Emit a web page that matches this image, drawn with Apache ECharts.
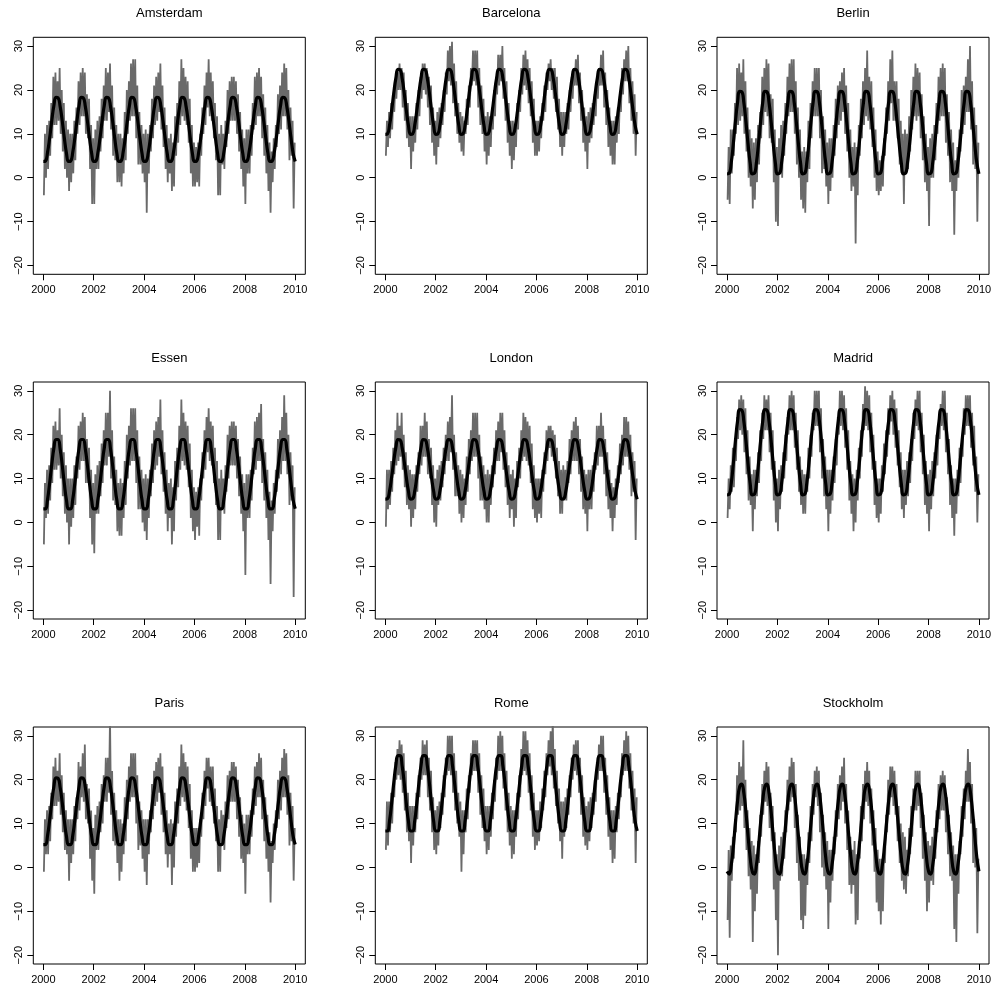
<!DOCTYPE html>
<html>
<head>
<meta charset="utf-8">
<script src="https://cdn.jsdelivr.net/npm/echarts@6.0.0/dist/echarts.min.js"></script>
<style>
html, body { margin: 0; padding: 0; background: #fff; }
#chart { width: 995px; height: 990px; }
</style>
</head>
<body>
<div id="chart"></div>
<script>
var cities = ['Amsterdam', 'Barcelona', 'Berlin', 'Essen', 'London', 'Madrid', 'Paris', 'Rome', 'Stockholm'];
var xTicks = [2000, 2002, 2004, 2006, 2008, 2010];
var yTicks = [-20, -10, 0, 10, 20, 30];

// fitted seasonal curve, value at the start of each month (Jan..Dec)
var fitAmsterdam = [3.7, 3.8, 5.8, 9.1, 13.0, 16.4, 18.3, 18.2, 16.2, 12.9, 9.0, 5.6];
var fitBarcelona = [9.9, 10.0, 12.0, 15.4, 19.3, 22.7, 24.7, 24.6, 22.6, 19.2, 15.3, 11.9];
var fitBerlin = [0.9, 1.0, 3.5, 7.9, 12.9, 17.2, 19.7, 19.6, 17.1, 12.7, 7.7, 3.4];
var fitEssen = [3.1, 3.1, 5.3, 9.0, 13.2, 16.9, 18.9, 18.9, 16.7, 13.0, 8.8, 5.1];
var fitLondon = [5.3, 5.4, 7.2, 10.4, 14.0, 17.1, 18.9, 18.8, 17.0, 13.8, 10.2, 7.1];
var fitMadrid = [6.3, 6.4, 9.0, 13.5, 18.7, 23.1, 25.7, 25.6, 23.0, 18.5, 13.3, 8.9];
var fitParis = [5.2, 5.2, 7.3, 10.8, 14.9, 18.4, 20.4, 20.3, 18.2, 14.7, 10.6, 7.1];
var fitRome = [8.3, 8.3, 10.7, 14.7, 19.3, 23.3, 25.5, 25.5, 23.1, 19.1, 14.5, 10.5];
var fitStockholm = [-0.9, -1.5, 0.6, 4.9, 10.3, 15.2, 18.4, 19.0, 16.9, 12.6, 7.2, 2.3];

// monthly high / low of the daily temperatures, Jan 2000 .. Dec 2009 (one row per year)
var hiAmsterdam = [
  10,12,13,17,23,24,22,25,20,17,13,11,
  10,10,13,16,22,24,25,24,19,18,12,9,
  11,13,14,18,21,25,24,26,21,16,12,10,
  10,9,15,20,22,26,27,27,21,15,12,10,
  11,10,12,18,21,23,24,26,21,16,12,9,
  10,8,14,17,22,27,25,23,22,18,12,8,
  7,8,10,16,21,24,27,24,22,17,14,10,
  12,10,13,20,22,23,23,22,19,15,11,9,
  11,11,12,17,23,24,25,23,19,16,12,8,
  6,9,12,19,21,24,26,25,20,16,13,8];
var loAmsterdam = [
  -4,0,2,5,9,12,12,13,10,6,2,0,
  -3,-1,1,4,10,12,14,14,10,9,2,-6,
  -6,2,2,6,9,13,13,15,11,5,4,-1,
  -1,-2,1,4,10,13,14,14,9,3,3,1,
  -1,-8,1,6,9,12,13,15,11,7,2,-1,
  1,-3,-2,5,8,12,14,13,12,8,1,-2,
  -2,-1,-2,5,10,12,16,14,13,9,4,-4,
  -4,3,2,7,10,13,13,13,10,6,2,-2,
  -6,1,1,5,11,12,14,14,9,5,1,-3,
  -8,-1,2,7,10,11,14,14,11,4,5,-7];

var hiBarcelona = [
  13,15,17,19,22,24,26,25,24,20,17,14,
  14,14,17,20,23,26,26,25,23,21,16,13,
  15,16,17,20,24,29,30,31,26,22,17,15,
  14,13,18,21,25,29,29,29,25,21,18,14,
  15,14,16,20,23,28,28,30,25,22,17,13,
  13,12,17,20,25,28,29,27,25,22,18,13,
  13,14,17,21,24,26,27,25,25,23,18,15,
  15,15,17,20,23,25,27,28,24,20,16,14,
  15,16,17,19,22,25,28,29,24,20,16,13,
  13,14,16,19,25,27,29,30,25,22,19,15];
var loBarcelona = [
  5,7,9,11,15,18,20,20,16,13,9,7,
  2,6,8,11,14,18,20,19,16,12,8,5,
  3,7,9,12,15,19,22,21,17,14,10,8,
  6,5,10,12,16,21,22,21,16,12,10,6,
  3,5,7,11,14,19,21,22,18,13,8,5,
  2,4,7,11,15,19,21,20,17,14,8,5,
  5,6,9,13,15,20,22,20,18,15,11,7,
  5,7,10,11,15,18,21,21,17,13,8,6,
  2,8,9,12,14,18,21,21,16,12,7,5,
  3,3,8,10,15,19,22,22,17,13,10,5];

var hiBerlin = [
  7,11,11,17,25,26,24,27,22,16,11,9,
  8,9,12,15,23,25,27,26,19,18,11,7,
  9,12,13,17,23,26,27,27,22,16,11,6,
  7,6,13,17,22,25,25,25,20,14,11,8,
  9,9,12,18,21,22,24,25,21,17,11,7,
  8,7,12,18,22,25,29,23,22,16,11,6,
  4,5,9,16,22,27,29,22,22,18,13,10,
  11,10,14,20,23,26,25,24,19,14,10,7,
  9,10,12,17,23,25,26,25,19,15,11,8,
  4,7,11,20,21,23,27,30,22,16,12,8];
var loBerlin = [
  -5,-6,1,5,10,12,13,14,10,6,0,-2,
  -7,-5,-1,3,9,12,15,14,9,8,-1,-10,
  -11,1,0,5,10,14,15,15,10,3,0,-5,
  -7,-8,-1,2,9,14,14,14,9,1,2,-2,
  -6,-3,0,5,9,12,13,15,10,6,0,-3,
  -2,-15,-4,5,9,12,14,13,11,7,0,-3,
  -4,-3,-2,5,10,13,17,13,13,9,3,1,
  -6,1,2,6,11,14,13,14,9,4,-1,-3,
  -11,0,0,4,10,13,14,14,8,5,-1,-3,
  -13,-3,0,6,10,12,15,15,11,3,2,-10];

var hiEssen = [
  9,12,13,17,22,23,21,26,20,16,13,10,
  10,10,13,15,22,23,25,24,19,17,12,9,
  11,13,14,18,21,25,25,30,21,15,12,9,
  10,9,14,20,22,26,26,26,21,15,12,10,
  11,10,12,18,21,23,24,28,21,16,12,9,
  10,8,14,17,22,28,25,23,22,18,12,8,
  7,8,10,16,21,24,26,23,22,17,14,10,
  12,10,13,20,22,23,23,22,19,15,11,9,
  11,11,12,17,23,24,25,27,19,16,12,7,
  5,9,12,19,21,24,29,25,20,16,13,8];
var loEssen = [
  -5,1,2,5,9,12,12,13,10,6,2,0,
  -5,-1,1,4,10,12,14,14,9,9,1,-5,
  -7,2,2,6,9,13,13,15,10,5,4,-2,
  -3,-3,1,4,10,13,14,14,9,3,3,0,
  -2,-4,1,6,9,12,13,15,11,7,2,-2,
  1,-5,-2,5,8,12,14,13,12,8,1,-2,
  -4,-1,-3,5,10,12,16,14,13,9,4,-4,
  -4,3,2,7,10,13,13,13,10,6,2,-2,
  -12,1,1,5,11,12,14,14,9,5,1,-4,
  -14,-2,2,7,10,11,14,14,11,4,5,-17];

var hiLondon = [
  12,12,14,17,21,25,22,25,20,16,13,12,
  11,11,13,16,22,22,25,23,19,17,13,10,
  12,13,14,17,20,23,24,29,20,16,13,12,
  11,10,15,19,21,25,25,25,20,15,13,11,
  12,11,13,17,21,23,25,25,21,16,13,11,
  12,10,14,17,21,25,24,23,22,18,13,10,
  10,10,12,16,21,22,22,21,20,17,14,12,
  13,12,14,19,21,23,24,22,19,15,12,11,
  12,12,13,16,22,22,25,22,19,16,12,9,
  8,10,13,18,20,24,24,23,20,16,14,10];
var loLondon = [
  -1,3,4,7,11,13,14,15,12,8,4,3,
  -1,1,3,7,11,13,15,15,11,10,4,0,
  -1,4,5,8,11,14,14,16,12,6,6,2,
  0,1,4,7,11,14,15,15,10,5,5,3,
  0,0,4,8,11,14,14,16,12,8,4,1,
  3,-1,1,8,10,14,15,14,13,9,3,1,
  0,2,1,7,11,14,17,15,14,10,6,2,
  2,5,5,9,11,14,14,14,11,7,3,2,
  -2,3,3,7,12,13,15,15,11,6,3,1,
  -2,1,4,9,11,13,15,15,12,6,7,-4];

var hiMadrid = [
  10,13,17,16,24,28,29,28,26,21,15,11,
  12,12,16,21,25,29,28,29,25,21,14,10,
  12,13,16,20,24,29,30,29,25,21,15,12,
  11,11,17,20,25,30,30,30,26,19,15,12,
  12,12,15,19,24,30,30,29,26,21,14,11,
  10,12,17,21,27,31,30,29,25,20,14,10,
  10,13,18,21,26,29,30,28,26,21,16,12,
  12,14,16,19,25,28,30,30,25,20,14,11,
  12,14,16,20,22,27,30,30,25,19,13,10,
  10,12,17,18,26,29,29,29,25,22,15,11];
var loMadrid = [
  1,3,7,8,14,19,21,20,16,11,5,4,
  -2,3,6,9,14,19,21,21,16,12,5,0,
  -2,3,7,10,14,20,21,21,17,12,7,4,
  2,2,7,10,15,21,22,22,16,10,6,3,
  -2,2,5,9,13,20,22,21,17,12,5,2,
  -2,0,5,10,15,21,22,21,16,12,4,1,
  0,2,7,11,15,20,23,20,17,13,8,3,
  1,4,6,9,14,19,22,21,16,11,4,2,
  -2,3,6,10,13,19,22,21,16,11,4,1,
  -3,2,6,9,15,20,22,22,17,13,7,0];

var hiParis = [
  11,13,14,17,23,25,22,26,21,17,13,11,
  11,11,14,16,24,23,26,28,19,18,13,9,
  12,14,15,19,21,25,25,34,22,17,13,11,
  11,10,16,20,23,26,26,26,21,15,13,11,
  11,11,13,19,22,24,25,26,23,17,13,10,
  11,10,15,18,23,28,26,24,23,19,13,9,
  9,9,11,17,22,25,25,23,23,18,14,11,
  13,12,15,21,22,24,24,23,20,16,12,10,
  12,12,13,18,23,24,26,25,20,16,12,8,
  6,10,13,20,22,25,27,26,21,17,14,9];
var loParis = [
  -1,3,3,6,11,14,14,15,12,8,4,3,
  -3,1,3,6,11,13,16,15,11,10,2,-3,
  -6,4,4,8,10,15,15,17,12,6,5,1,
  -3,-1,3,6,11,15,16,16,10,4,5,2,
  -1,-4,3,8,11,14,15,17,12,8,3,0,
  3,-4,0,7,10,14,16,15,13,9,2,-1,
  -1,0,1,7,11,14,18,15,14,10,6,-1,
  -1,5,4,9,11,15,15,15,11,7,2,1,
  -6,3,3,7,12,14,16,16,11,6,2,-1,
  -8,1,4,9,11,13,16,16,12,5,6,-3];

var hiRome = [
  15,15,17,18,24,27,29,28,26,22,17,14,
  14,14,17,21,25,29,28,29,25,22,16,13,
  14,15,17,21,25,30,30,30,26,22,17,15,
  13,13,18,21,26,29,29,29,26,21,18,14,
  14,14,17,20,25,30,31,30,26,22,17,14,
  13,13,17,21,27,31,31,29,26,21,17,13,
  13,15,18,22,26,29,31,34,27,22,18,15,
  15,16,18,21,25,28,29,29,25,21,16,14,
  15,16,17,20,24,28,30,30,25,21,16,13,
  13,14,17,20,26,29,31,30,26,22,18,16];
var loRome = [
  4,5,8,10,16,20,21,20,17,13,8,6,
  1,5,8,11,16,20,21,21,16,13,8,4,
  3,5,9,12,16,21,22,21,17,13,10,7,
  -1,3,8,11,17,21,22,22,17,12,9,6,
  3,4,7,11,15,20,22,22,18,13,8,5,
  2,3,7,11,16,21,22,21,17,13,7,4,
  5,6,9,13,16,21,23,21,18,14,10,6,
  2,7,9,12,16,20,22,21,17,12,7,5,
  4,6,9,12,15,20,22,22,17,12,7,4,
  1,2,8,11,16,21,22,22,18,13,10,1];

var hiStockholm = [
  4,5,7,11,21,24,23,29,20,13,9,6,
  5,3,6,12,19,22,24,23,17,14,8,3,
  5,7,8,13,20,23,25,24,19,12,7,3,
  3,2,8,14,19,22,23,22,17,12,8,6,
  4,4,7,13,19,21,23,25,19,13,7,4,
  6,3,6,14,19,22,24,22,18,13,9,4,
  2,2,3,12,20,23,23,22,19,14,10,8,
  7,4,9,14,18,22,22,22,17,12,8,6,
  5,7,9,13,19,21,22,21,16,12,8,5,
  3,3,6,14,18,22,27,24,19,11,9,2];
var loStockholm = [
  -12,-16,-3,2,8,12,13,14,9,4,-2,-5,
  -17,-10,-6,1,7,12,15,14,9,6,-5,-12,
  -20,-3,-2,2,8,13,15,16,9,1,-3,-12,
  -14,-11,-4,1,6,12,16,14,8,0,-2,-5,
  -14,-8,-3,3,7,11,13,15,10,4,-4,-6,
  -4,-13,-12,2,6,11,15,14,10,5,-1,-8,
  -10,-13,-10,1,8,12,16,14,12,6,1,-3,
  -5,-6,-2,3,7,13,13,14,9,2,-3,-10,
  -8,-3,-4,2,8,11,13,13,8,3,-2,-3,
  -14,-17,-6,3,7,11,15,15,10,1,0,-15];

var fits = [fitAmsterdam, fitBarcelona, fitBerlin, fitEssen, fitLondon, fitMadrid, fitParis, fitRome, fitStockholm];
var highs = [hiAmsterdam, hiBarcelona, hiBerlin, hiEssen, hiLondon, hiMadrid, hiParis, hiRome, hiStockholm];
var lows = [loAmsterdam, loBarcelona, loBerlin, loEssen, loLondon, loMadrid, loParis, loRome, loStockholm];

var colLeft = [33.3, 375.3, 717];
var rowTop = [37.3, 382, 727];
var boxW = 272, boxH = 237;
var font = 'Liberation Sans, Arial, Helvetica, sans-serif';

var chart = echarts.init(document.getElementById('chart'));

var grid = [], xAxis = [], yAxis = [], series = [], title = [];

for (var c = 0; c < cities.length; c++) {
    var col = c % 3;
    var row = Math.floor(c / 3);

    grid.push({
        left: colLeft[col], top: rowTop[row], width: boxW, height: boxH,
        show: true, borderColor: '#000', borderWidth: 1, backgroundColor: 'transparent'
    });

    title.push({
        text: cities[c],
        left: colLeft[col] + boxW / 2,
        top: rowTop[row] - 30,
        textAlign: 'center',
        padding: 0,
        textStyle: { fontSize: 13, fontWeight: 'normal', fontFamily: font, color: '#000' }
    });

    xAxis.push({
        type: 'value', gridIndex: c, min: 1999.6, max: 2010.4,
        splitLine: { show: false },
        axisLine: { show: false, onZero: false },
        axisTick: { length: 6, customValues: xTicks, lineStyle: { color: '#000' } },
        axisLabel: {
            customValues: xTicks, margin: 10, fontSize: 11, fontFamily: font, color: '#000',
            formatter: function (v) { return String(v); }
        }
    });

    yAxis.push({
        type: 'value', gridIndex: c, min: -22, max: 32,
        splitLine: { show: false },
        axisLine: { show: false, onZero: false },
        axisTick: { length: 6, customValues: yTicks, lineStyle: { color: '#000' } },
        axisLabel: {
            customValues: yTicks, rotate: 90, margin: 9, fontSize: 11, fontFamily: font, color: '#000',
            formatter: function (v) { return String(v).replace('-', '\u2212'); }
        }
    });

    // daily series drawn as a low/high stroke for every month
    var daily = [];
    for (var i = 0; i < highs[c].length; i++) {
        var t = 2000 + i / 12;
        daily.push([t + 1 / 48, lows[c][i]]);
        daily.push([t + 3 / 48, highs[c][i]]);
    }

    var fit = [];
    for (var y = 0; y < 10; y++) {
        for (var k = 0; k < 12; k++) {
            fit.push([2000 + y + k / 12, fits[c][k]]);
        }
    }
    fit.push([2010, fits[c][0]]);

    series.push({
        type: 'line', xAxisIndex: c, yAxisIndex: c, data: daily,
        symbol: 'none', silent: true,
        lineStyle: { color: '#6a6a6a', width: 1.8, join: 'miter' }
    });
    series.push({
        type: 'line', xAxisIndex: c, yAxisIndex: c, data: fit,
        symbol: 'none', smooth: true, silent: true,
        lineStyle: { color: '#000', width: 3.2 }
    });
}

var option = {
    backgroundColor: '#fff',
    animation: false,
    title: title,
    grid: grid,
    xAxis: xAxis,
    yAxis: yAxis,
    series: series
};

option && chart.setOption(option);
</script>
</body>
</html>
